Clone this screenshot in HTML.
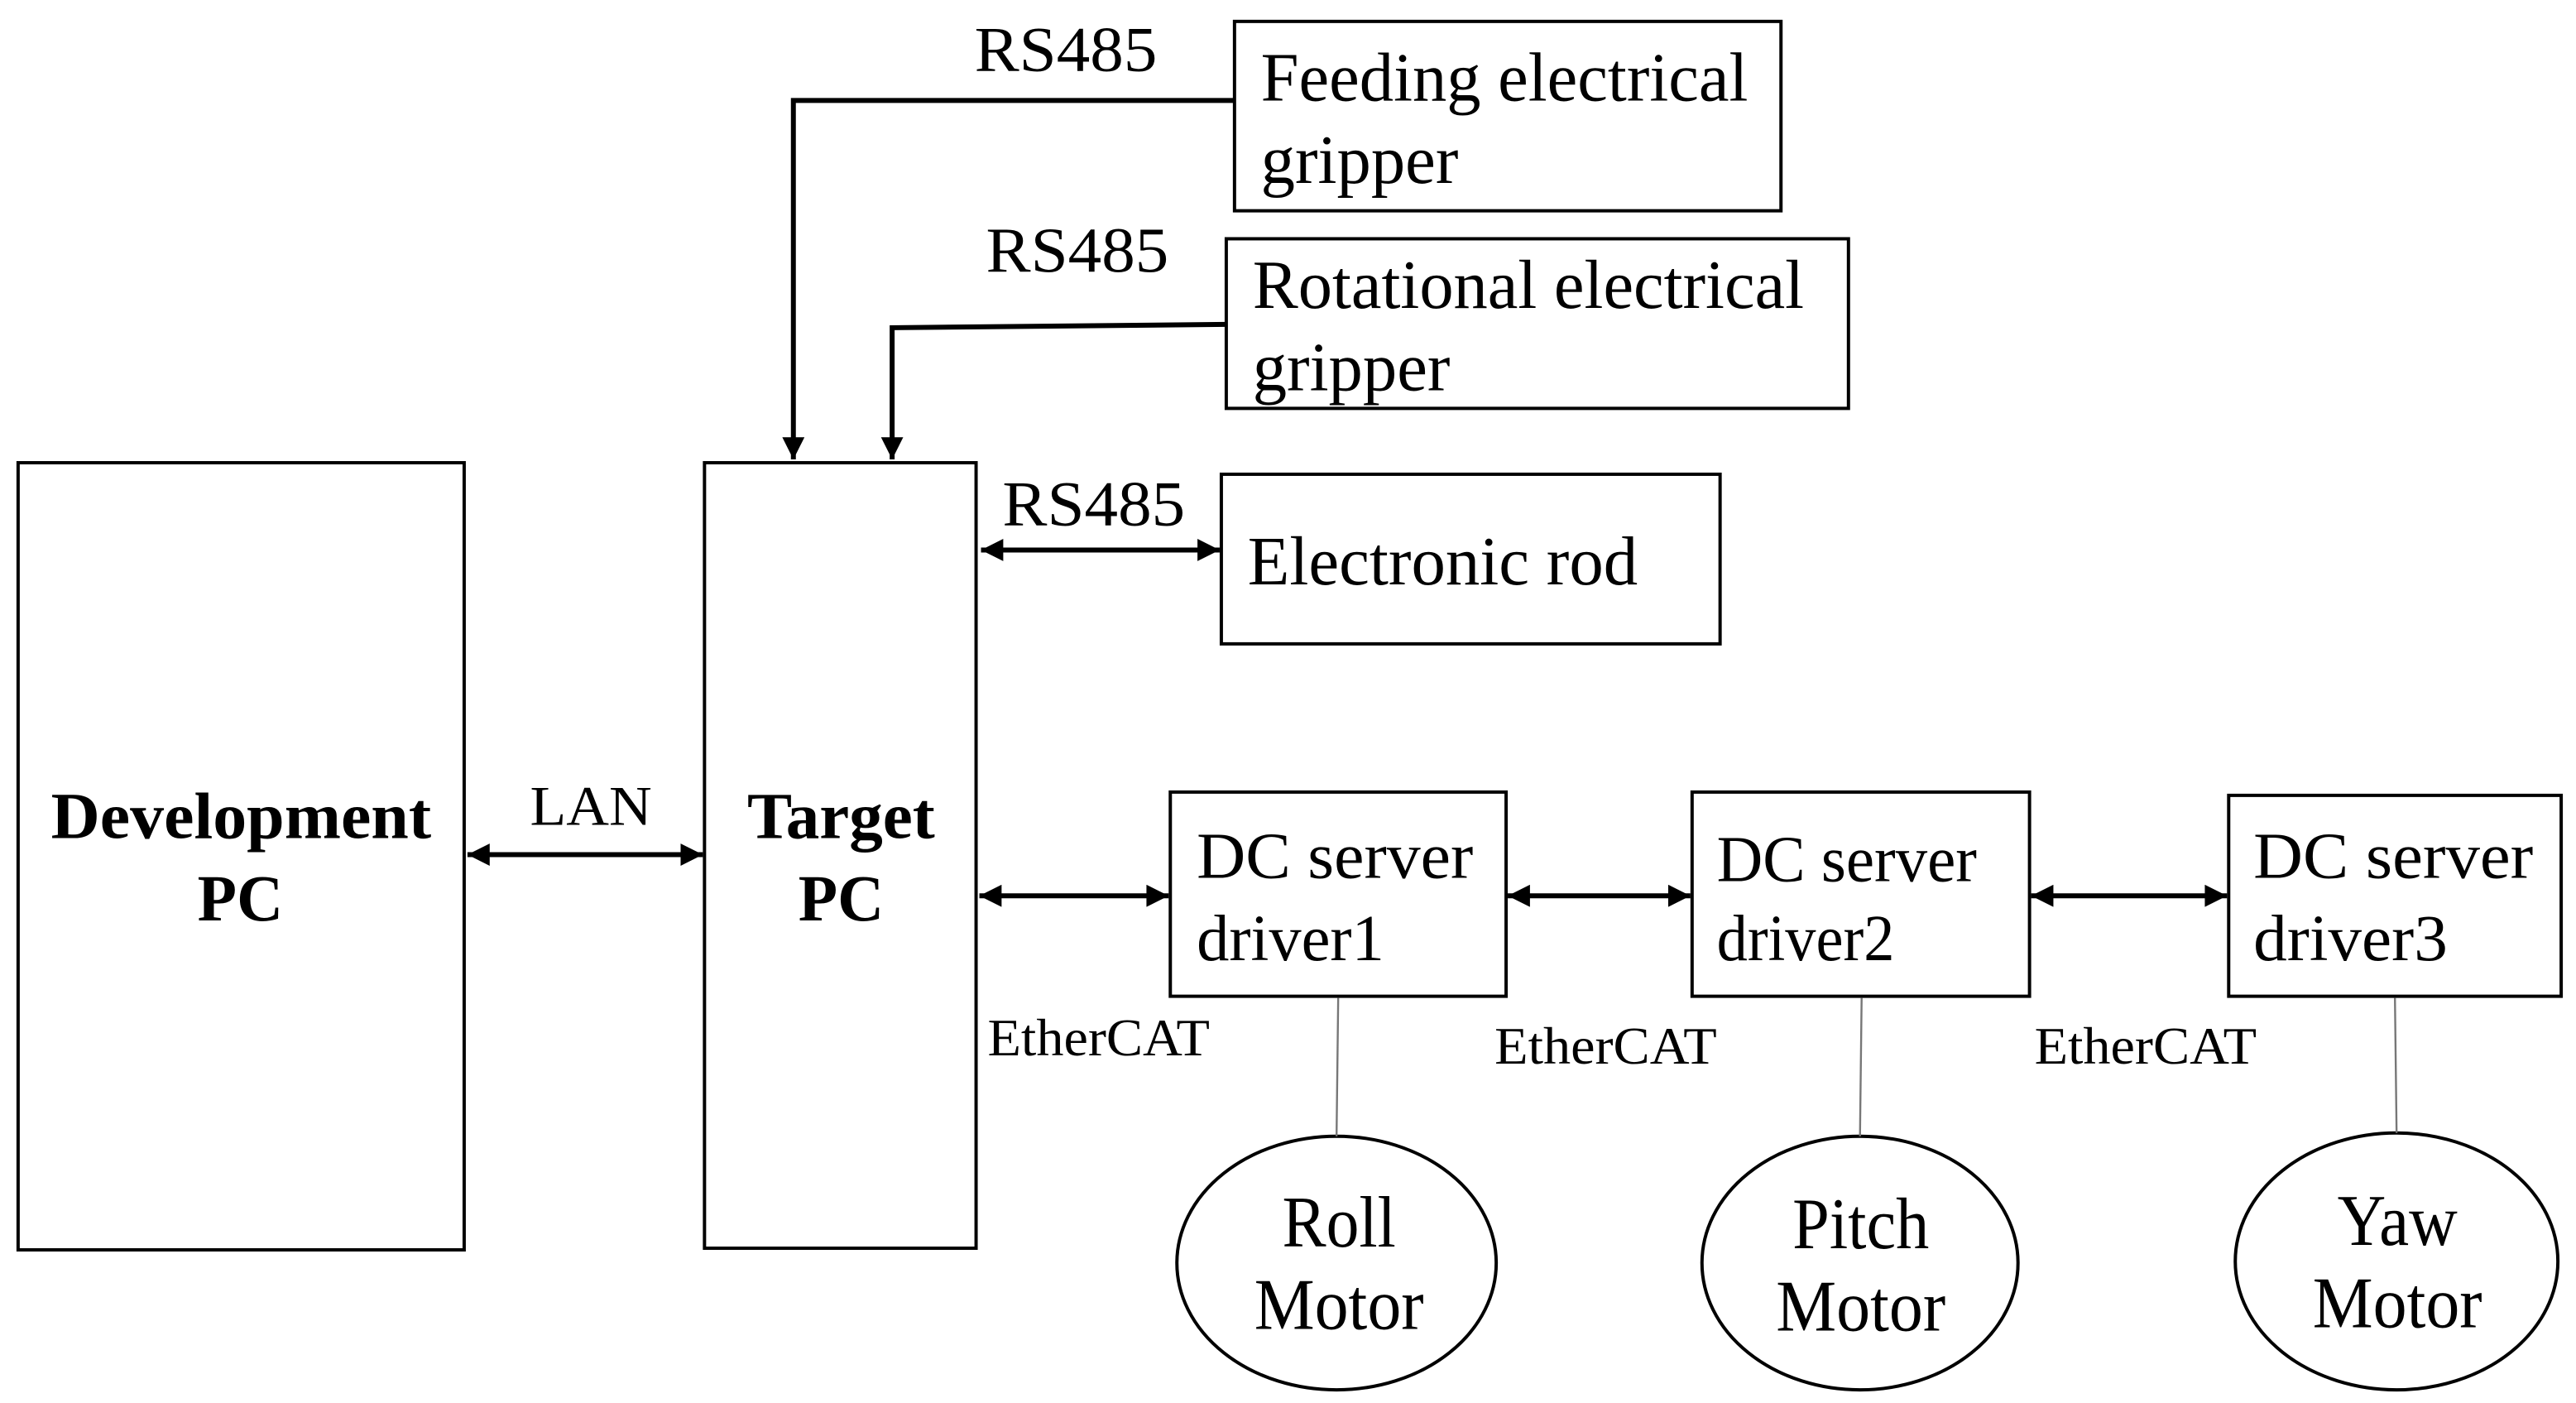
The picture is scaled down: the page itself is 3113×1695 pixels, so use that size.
<!DOCTYPE html>
<html><head><meta charset="utf-8"><style>html,body{margin:0;padding:0;background:#fff}svg{display:block}</style></head>
<body>
<svg width="3113" height="1695" viewBox="0 0 1565 852" preserveAspectRatio="none" xmlns="http://www.w3.org/2000/svg" font-family="Liberation Serif, serif">
<defs>
<marker id="a" viewBox="0 0 10 10" refX="10" refY="5" markerWidth="5" markerHeight="4.5" orient="auto-start-reverse"><path d="M0,0 L10,5 L0,10 z" fill="#000"/></marker>
</defs>
<g fill="none" stroke="#000" stroke-width="2">
<rect x="11" y="281" width="271" height="478"/>
<rect x="428" y="281" width="165" height="477"/>
<rect x="750" y="13" width="332" height="115"/>
<rect x="745" y="145" width="378" height="103"/>
<rect x="742" y="288" width="303" height="103"/>
<rect x="711" y="481" width="204" height="124"/>
<rect x="1028" y="481" width="205" height="124"/>
<rect x="1354" y="483" width="202" height="122"/>
<ellipse cx="812" cy="767" rx="97" ry="77"/>
<ellipse cx="1130" cy="767" rx="96" ry="77"/>
<ellipse cx="1456" cy="766" rx="98" ry="78"/>
</g>
<g fill="none" stroke="#000" stroke-width="3">
<path d="M750,61 H482 V279" marker-end="url(#a)"/>
<path d="M745,197 L542,199 V279" marker-end="url(#a)"/>
<path d="M596,334 H741" marker-start="url(#a)" marker-end="url(#a)"/>
<path d="M284,519 H427" marker-start="url(#a)" marker-end="url(#a)"/>
<path d="M595,544 H710" marker-start="url(#a)" marker-end="url(#a)"/>
<path d="M916,544 H1027" marker-start="url(#a)" marker-end="url(#a)"/>
<path d="M1234,544 H1353" marker-start="url(#a)" marker-end="url(#a)"/>
</g>
<g stroke="#777" stroke-width="1.2">
<line x1="813" y1="606" x2="812" y2="690"/>
<line x1="1131" y1="606" x2="1130" y2="690"/>
<line x1="1455" y1="606" x2="1456" y2="688"/>
</g>
<g fill="#000" font-size="40" font-weight="bold">
<text x="31" y="509" textLength="231" lengthAdjust="spacingAndGlyphs">Development</text>
<text x="120" y="559" textLength="52" lengthAdjust="spacingAndGlyphs">PC</text>
<text x="454" y="509" textLength="114" lengthAdjust="spacingAndGlyphs">Target</text>
<text x="485" y="559" textLength="52" lengthAdjust="spacingAndGlyphs">PC</text>
</g>
<g fill="#000" font-size="42">
<text x="766" y="61" textLength="296" lengthAdjust="spacingAndGlyphs">Feeding electrical</text>
<text x="766" y="111" textLength="120" lengthAdjust="spacingAndGlyphs">gripper</text>
<text x="761" y="187" textLength="335" lengthAdjust="spacingAndGlyphs">Rotational electrical</text>
<text x="761" y="237" textLength="120" lengthAdjust="spacingAndGlyphs">gripper</text>
<text x="758" y="355" textLength="237" lengthAdjust="spacingAndGlyphs">Electronic rod</text>
</g>
<g fill="#000" font-size="39">
<text x="592" y="43" textLength="111" lengthAdjust="spacingAndGlyphs">RS485</text>
<text x="599" y="165" textLength="111" lengthAdjust="spacingAndGlyphs">RS485</text>
<text x="609" y="319" textLength="111" lengthAdjust="spacingAndGlyphs">RS485</text>
</g>
<g fill="#000" font-size="34"><text x="322" y="501" textLength="74" lengthAdjust="spacingAndGlyphs">LAN</text></g>
<g fill="#000" font-size="40">
<text x="727" y="533" textLength="168" lengthAdjust="spacingAndGlyphs">DC server</text>
<text x="727" y="583" textLength="114" lengthAdjust="spacingAndGlyphs">driver1</text>
<text x="1043" y="535" textLength="158" lengthAdjust="spacingAndGlyphs">DC server</text>
<text x="1043" y="583" textLength="108" lengthAdjust="spacingAndGlyphs">driver2</text>
<text x="1369" y="533" textLength="170" lengthAdjust="spacingAndGlyphs">DC server</text>
<text x="1369" y="583" textLength="118" lengthAdjust="spacingAndGlyphs">driver3</text>
</g>
<g fill="#000" font-size="32">
<text x="600" y="641" textLength="135" lengthAdjust="spacingAndGlyphs">EtherCAT</text>
<text x="908" y="646" textLength="135" lengthAdjust="spacingAndGlyphs">EtherCAT</text>
<text x="1236" y="646" textLength="135" lengthAdjust="spacingAndGlyphs">EtherCAT</text>
</g>
<g fill="#000" font-size="44">
<text x="779" y="757" textLength="69" lengthAdjust="spacingAndGlyphs">Roll</text>
<text x="762" y="807" textLength="103" lengthAdjust="spacingAndGlyphs">Motor</text>
<text x="1089" y="758" textLength="83" lengthAdjust="spacingAndGlyphs">Pitch</text>
<text x="1079" y="808" textLength="103" lengthAdjust="spacingAndGlyphs">Motor</text>
<text x="1420" y="756" textLength="73" lengthAdjust="spacingAndGlyphs">Yaw</text>
<text x="1405" y="806" textLength="103" lengthAdjust="spacingAndGlyphs">Motor</text>
</g>
</svg>
</body></html>
